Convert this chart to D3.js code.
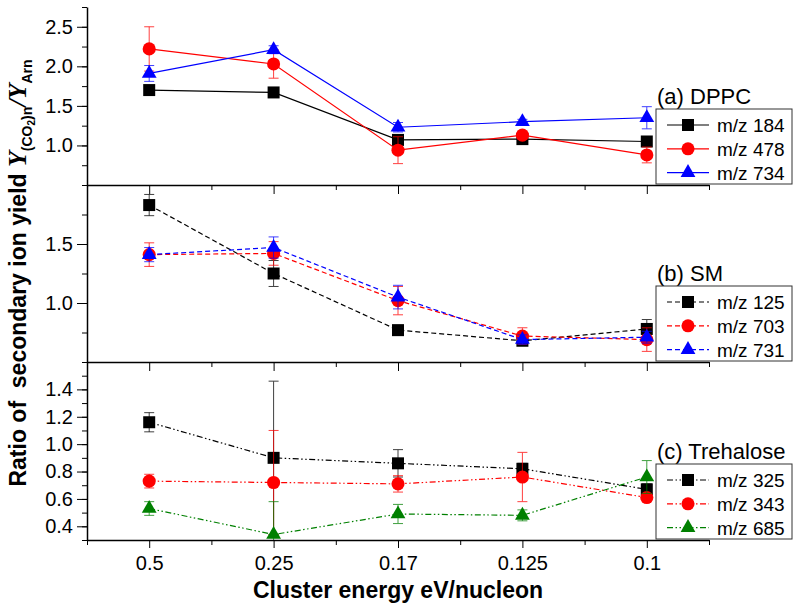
<!DOCTYPE html>
<html>
<head>
<meta charset="utf-8">
<script src="https://cdn.jsdelivr.net/npm/d3@7/dist/d3.min.js"></script>
<style>
  body { margin: 0; background: #fff; }
  svg { display: block; }
  text { font-family: Arial, "Liberation Sans", sans-serif; }
</style>
</head>
<body>
<div id="chart"></div>
<script>
// x categories: cluster energy (eV/nucleon)
const energies = ['0.5', '0.25', '0.17', '0.125', '0.1'];

// (a) DPPC
const dppc184 = [1.70, 1.67, 1.07, 1.08, 1.05];
const dppc184Err = [0.03, 0.03, 0.04, 0.05, 0.03];
const dppc478 = [2.22, 2.03, 0.94, 1.13, 0.88];
const dppc478Err = [0.28, 0.18, 0.17, 0.05, 0.10];
const dppc734 = [1.91, 2.21, 1.23, 1.30, 1.35];
const dppc734Err = [0.10, 0.05, 0.06, 0.03, 0.14];

// (b) SM
const sm125 = [1.83, 1.25, 0.77, 0.68, 0.78];
const sm125Err = [0.09, 0.11, 0.04, 0.03, 0.08];
const sm703 = [1.41, 1.42, 1.02, 0.72, 0.69];
const sm703Err = [0.10, 0.10, 0.12, 0.07, 0.10];
const sm731 = [1.41, 1.47, 1.05, 0.69, 0.71];
const sm731Err = [0.06, 0.09, 0.10, 0.04, 0.05];

// (c) Trehalose
const tre325 = [1.16, 0.90, 0.86, 0.82, 0.67];
const tre325Err = [0.07, 0.56, 0.10, 0.04, 0.04];
const tre343 = [0.73, 0.72, 0.71, 0.76, 0.61];
const tre343Err = [0.05, 0.38, 0.06, 0.18, 0.03];
const tre685 = [0.53, 0.34, 0.49, 0.48, 0.76];
const tre685Err = [0.05, 0.24, 0.07, 0.04, 0.12];

// y tick labels per panel
const yTicksA = [1.0, 1.5, 2.0, 2.5];
const yTicksB = [1.0, 1.5];
const yTicksC = [0.4, 0.6, 0.8, 1.0, 1.2, 1.4];

const panels = [
  { title: '(a) DPPC', domain: [0.5, 2.75], ticks: yTicksA, minor: 0.25, dash: null,
    series: [
      { name: 'm/z 184', values: dppc184, err: dppc184Err, color: '#000000', shape: 'square' },
      { name: 'm/z 478', values: dppc478, err: dppc478Err, color: '#ff0000', shape: 'circle' },
      { name: 'm/z 734', values: dppc734, err: dppc734Err, color: '#0000ff', shape: 'triangle' }
    ] },
  { title: '(b) SM', domain: [0.5, 2.0], ticks: yTicksB, minor: 0.25, dash: '5,3',
    series: [
      { name: 'm/z 125', values: sm125, err: sm125Err, color: '#000000', shape: 'square' },
      { name: 'm/z 703', values: sm703, err: sm703Err, color: '#ff0000', shape: 'circle' },
      { name: 'm/z 731', values: sm731, err: sm731Err, color: '#0000ff', shape: 'triangle' }
    ] },
  { title: '(c) Trehalose', domain: [0.3, 1.6], ticks: yTicksC, minor: 0.1, dash: '6,2.5,1.5,2.5,1.5,2.5',
    series: [
      { name: 'm/z 325', values: tre325, err: tre325Err, color: '#000000', shape: 'square' },
      { name: 'm/z 343', values: tre343, err: tre343Err, color: '#ff0000', shape: 'circle' },
      { name: 'm/z 685', values: tre685, err: tre685Err, color: '#008000', shape: 'triangle' }
    ] }
];

const W = 800, H = 612;
const left = 87, right = 709;
const bands = [[7, 185], [185, 362], [362, 540]];

const svg = d3.select('#chart').append('svg')
  .attr('width', W).attr('height', H);

const x = d3.scalePoint().domain(energies).range([left, right]).padding(0.5);
// index scale, used for minor ticks between categories
const xi = d3.scaleLinear().domain([-0.5, energies.length - 0.5]).range([left, right]);

const symbols = {
  square: d3.symbol().type(d3.symbolSquare).size(144),
  circle: d3.symbol().type(d3.symbolCircle).size(135),
  triangle: d3.symbol().type(d3.symbolTriangle).size(95)
};

panels.forEach((p, pi) => {
  const [top, bottom] = bands[pi];
  const y = d3.scaleLinear().domain(p.domain).range([bottom, top]);
  const g = svg.append('g');

  const clipId = 'clip' + pi;
  svg.append('clipPath').attr('id', clipId)
    .append('rect').attr('x', left).attr('y', top).attr('width', right - left).attr('height', bottom - top);

  // series: lines, error bars, markers
  p.series.forEach(s => {
    const pts = energies.map((e, i) => ({ e, v: s.values[i], err: s.err[i] }));

    g.append('path')
      .datum(pts)
      .attr('fill', 'none')
      .attr('stroke', s.color)
      .attr('stroke-width', 1.2)
      .attr('stroke-dasharray', p.dash)
      .attr('d', d3.line().x(d => x(d.e)).y(d => y(d.v)));

    const eb = g.append('g').attr('clip-path', `url(#${clipId})`)
      .attr('stroke', s.color).attr('stroke-width', 1).attr('opacity', 0.75);
    eb.selectAll('.eb').data(pts).enter().append('path')
      .attr('fill', 'none')
      .attr('d', d => {
        const cx = x(d.e), y1 = y(d.v + d.err), y2 = y(d.v - d.err);
        return `M${cx},${y1}V${y2}M${cx - 5},${y1}H${cx + 5}M${cx - 5},${y2}H${cx + 5}`;
      });

    g.selectAll(null).data(pts).enter().append('path')
      .attr('transform', d => `translate(${x(d.e)},${y(d.v)})`)
      .attr('d', symbols[s.shape]())
      .attr('fill', s.color);
  });

  // left axis (labelled major + minor)
  g.append('g')
    .attr('transform', `translate(${left},0)`)
    .call(d3.axisLeft(y).tickValues(d3.range(p.domain[0], p.domain[1] + 1e-6, p.minor))
      .tickSize(5).tickSizeOuter(0).tickFormat(''))
    .call(a => a.select('.domain').attr('stroke-width', 1.5));
  g.append('g')
    .attr('transform', `translate(${left},0)`)
    .call(d3.axisLeft(y).tickValues(p.ticks).tickSize(10).tickPadding(4)
      .tickSizeOuter(0).tickFormat(d3.format('.1f')))
    .call(a => a.select('.domain').remove())
    .call(a => a.selectAll('text').attr('font-size', 20).attr('fill', '#000'));

  // bottom axis of each panel
  const isLast = pi === panels.length - 1;
  g.append('g')
    .attr('transform', `translate(0,${bottom})`)
    .call(d3.axisBottom(xi).tickValues(d3.range(-0.5, energies.length, 1))
      .tickSize(5).tickSizeOuter(0).tickFormat(''))
    .call(a => a.select('.domain').attr('stroke-width', 1.5));
  g.append('g')
    .attr('transform', `translate(0,${bottom})`)
    .call(d3.axisBottom(x).tickSize(isLast ? 8 : 9).tickPadding(8).tickSizeOuter(0)
      .tickFormat(isLast ? (d => d) : ''))
    .call(a => a.select('.domain').remove())
    .call(a => a.selectAll('text').attr('font-size', 20).attr('fill', '#000'));

  // legend
  const boxBottom = bottom - 1, boxTop = boxBottom - 75;
  svg.append('text')
    .attr('x', 657).attr('y', boxTop - 5)
    .attr('font-size', 22)
    .text(p.title);
  const lg = svg.append('g');
  lg.append('rect')
    .attr('x', 656).attr('y', boxTop).attr('width', 136).attr('height', 75)
    .attr('fill', '#fff').attr('stroke', '#333').attr('stroke-width', 1);
  p.series.forEach((s, i) => {
    const ly = boxTop + 16 + i * 23.8;
    lg.append('line')
      .attr('x1', 667).attr('x2', 709).attr('y1', ly).attr('y2', ly)
      .attr('stroke', s.color).attr('stroke-width', 1.2)
      .attr('stroke-dasharray', p.dash);
    lg.append('path')
      .attr('transform', `translate(688,${ly})`)
      .attr('d', symbols[s.shape]())
      .attr('fill', s.color);
    lg.append('text')
      .attr('x', 717).attr('y', ly + 7)
      .attr('font-size', 19)
      .text(s.name);
  });
});

// x axis title
svg.append('text')
  .attr('x', (left + right) / 2).attr('y', 598)
  .attr('text-anchor', 'middle')
  .attr('font-size', 23).attr('font-weight', 'bold')
  .text('Cluster energy eV/nucleon');

// y axis title
const yt = svg.append('text')
  .attr('transform', 'translate(26,273) rotate(-90)')
  .attr('text-anchor', 'middle')
  .attr('font-size', 23).attr('font-weight', 'bold')
  .style('white-space', 'pre');
yt.append('tspan').text('Ratio of  secondary ion yield ');
const serif = '"Liberation Serif", "Times New Roman", serif';
yt.append('tspan').attr('font-family', serif).attr('font-style', 'italic').attr('font-size', 26).text('Y');
yt.append('tspan').attr('font-size', 14).attr('dy', 6).text('(CO');
yt.append('tspan').attr('font-size', 10).attr('dy', 3).text('2');
yt.append('tspan').attr('font-size', 14).attr('dy', -3).text(')n');
yt.append('tspan').attr('font-family', serif).attr('font-style', 'italic').attr('font-size', 26).attr('dy', -6).text('/');
yt.append('tspan').attr('font-family', serif).attr('font-style', 'italic').attr('font-size', 26).text('Y');
yt.append('tspan').attr('font-size', 14).attr('dy', 6).text('Arn');
</script>
</body>
</html>
